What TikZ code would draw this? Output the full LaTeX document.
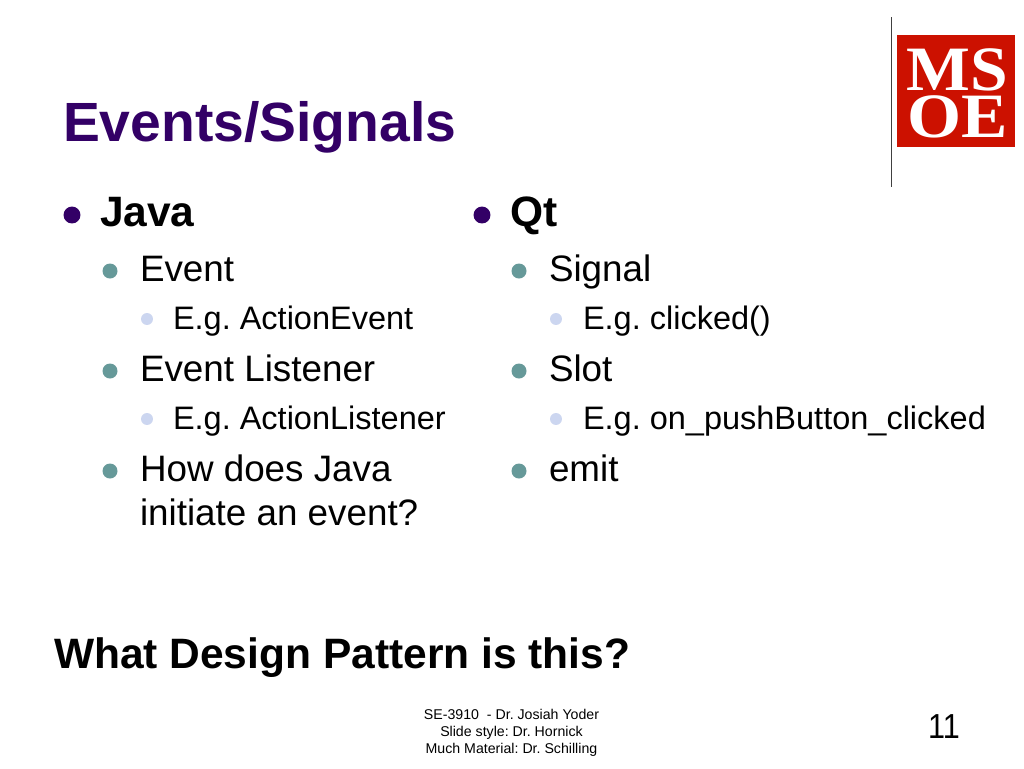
\documentclass[tikz,border=0pt]{standalone}
\usepackage{fontspec}
\setmainfont{Liberation Sans}
\newfontfamily\logofont{Liberation Serif}
\usepackage{xcolor}
\definecolor{slidepurple}{HTML}{330066}
\definecolor{slideteal}{HTML}{669999}
\definecolor{slideblue}{HTML}{CCD6F0}
\definecolor{logored}{HTML}{CC1100}
\frenchspacing
\begin{document}
\begin{tikzpicture}[x=0.72pt, y=-0.72pt]
	\tikzstyle{every node}=[inner sep=0pt, outer sep=0pt, anchor=base west]
	\tikzstyle{title}=[font=\fontsize{39.8}{44}\selectfont\bfseries, text=slidepurple]
	\tikzstyle{head}=[font=\fontsize{30.6}{34}\selectfont\bfseries]
	\tikzstyle{item}=[font=\fontsize{26.5}{30}\selectfont]
	\tikzstyle{subitem}=[font=\fontsize{23.4}{27}\selectfont]
	\tikzstyle{question}=[font=\fontsize{30.6}{34}\selectfont\bfseries]
	\tikzstyle{foot}=[font=\fontsize{10.2}{12}\selectfont, anchor=base]
	\tikzstyle{dothead}=[circle, fill=slidepurple, minimum size=12.2pt, anchor=center]
	\tikzstyle{dotitem}=[circle, fill=slideteal, minimum size=10.8pt, anchor=center]
	\tikzstyle{dotsub}=[circle, fill=slideblue, minimum size=8.6pt, anchor=center]
	\tikzstyle{logotext}=[font=\fontsize{45.5}{46}\selectfont\logofont\bfseries, text=white, anchor=base, text height=30pt, text depth=0pt]
	\useasboundingbox (0,0) rectangle (1024,768);
	\fill [white] (0,0) rectangle (1024,768);
	% logo
	\coordinate (ruletop) at (891.5,17);
	\coordinate (rulebot) at (891.5,187);
	\draw [line width=1.4pt, black!75] (ruletop) -- (rulebot);
	\fill [logored] (897,35) rectangle (1015,147);
	\node [logotext] (logoms) at (957.5,90) {\scalebox{1.07}[1]{MS}};
	\node [logotext] (logooe) at (957.5,137) {\scalebox{1.1}[1]{OE}};
	% title
	\node [title] (title) at (63,141) {Events/Signals};
	% left column
	\node [dothead] (dotjava) at (72,215) {};
	\node [head] (java) at (100,226) {Java};
	\node [dotitem] (dotevent) at (110,271) {};
	\node [item] (event) at (140,281) {Event};
	\node [dotsub] (dotaevent) at (147,319) {};
	\node [subitem] (aevent) at (173,329) {E.g. ActionEvent};
	\node [dotitem] (dotlistener) at (110,371) {};
	\node [item] (listener) at (140,381) {Event Listener};
	\node [dotsub] (dotalistener) at (147,419) {};
	\node [subitem] (alistener) at (173,429) {E.g. ActionListener};
	\node [dotitem] (dotinit) at (110,471) {};
	\node [item] (init) at (140,481) {How does Java};
	\node [item] (initb) at (140,525) {initiate an event?};
	% right column
	\node [dothead] (dotqt) at (482,215) {};
	\node [head] (qt) at (510,226) {Qt};
	\node [dotitem] (dotsignal) at (519,271) {};
	\node [item] (signal) at (549,281) {Signal};
	\node [dotsub] (dotclicked) at (556,319) {};
	\node [subitem] (clicked) at (583,329) {E.g. clicked()};
	\node [dotitem] (dotslot) at (519,371) {};
	\node [item] (slot) at (549,381) {Slot};
	\node [dotsub] (dotpush) at (556,419) {};
	\node [subitem] (push) at (583,429) {E.g. on\_pushButton\_clicked};
	\node [dotitem] (dotemit) at (519,471) {};
	\node [item] (emit) at (549,481) {emit};
	% bottom
	\node [question] (question) at (54,668) {What Design Pattern is this?};
	\node [foot] (foota) at (511.5,719) {SE-3910\ \ - Dr. Josiah Yoder};
	\node [foot] (footb) at (511.5,736) {Slide style: Dr. Hornick};
	\node [foot] (footc) at (511.5,753) {Much Material: Dr. Schilling};
	\node [font=\fontsize{25}{28}\selectfont, anchor=base] (pagenum) at (944,738) {\scalebox{0.88}[1]{11}};
\end{tikzpicture}
\end{document}
